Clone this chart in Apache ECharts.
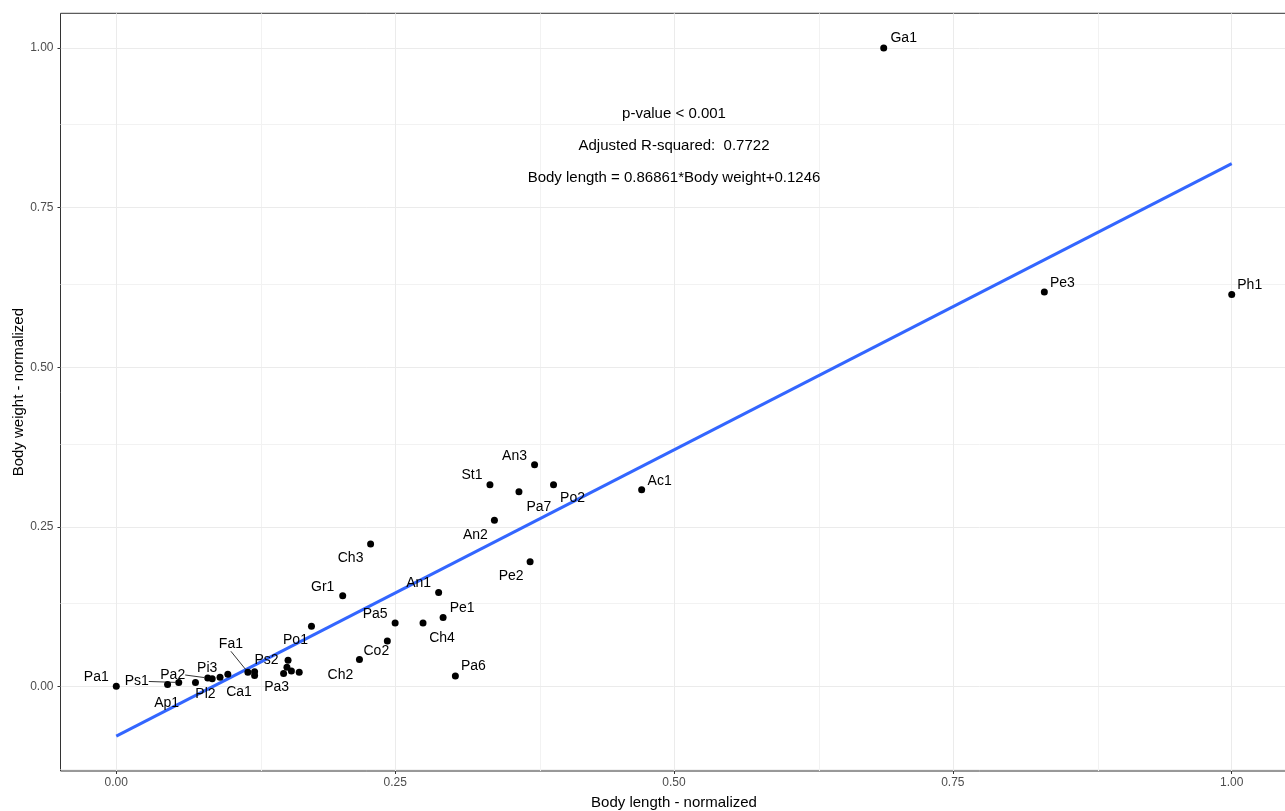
<!DOCTYPE html>
<html>
<head>
<meta charset="utf-8">
<title>Body length vs body weight</title>
<script src="https://cdn.jsdelivr.net/npm/echarts@6/dist/echarts.min.js"></script>
<style>
  html, body { margin: 0; padding: 0; background: #fff; }
  #chart { width: 1285px; height: 811px; }
</style>
</head>
<body>
<div id="chart"></div>
<script>
// Species codes and their normalized measurements
const names = ['Pa1','Ap1','Ps1','Pl2','Pa2','Pi3','Ca1','','Fa1','Ps2','','Pa3','','','','',
  'Po1','Ch2','Co2','Pa5','Ch4','Pe1','An1','Gr1','Pa6','Ch3','Pe2','An2','St1','Pa7','Po2','An3','Ac1',
  'Ga1','Pe3','Ph1'];
const bodyLength = [0.000,0.046,0.056,0.071,0.082,0.086,0.093,0.100,0.118,0.124,0.124,0.150,0.154,0.153,0.157,0.164,
  0.175,0.218,0.243,0.250,0.275,0.293,0.289,0.203,0.304,0.228,0.371,0.339,0.335,0.361,0.392,0.375,0.471,
  0.688,0.832,1.000];
const bodyWeight = [0.000,0.003,0.006,0.006,0.013,0.012,0.014,0.019,0.022,0.023,0.017,0.020,0.041,0.030,0.024,0.022,
  0.094,0.042,0.071,0.099,0.099,0.108,0.147,0.142,0.016,0.223,0.195,0.260,0.316,0.305,0.316,0.347,0.308,
  1.000,0.618,0.614];

// Fitted linear trend (end points)
const fitLength = [0, 1];
const fitWeight = [-0.078, 0.819];

// Model summary text
const statLines = ['p-value < 0.001', 'Adjusted R-squared:  0.7722', 'Body length = 0.86861*Body weight+0.1246'];
const statY = [0.90, 0.85, 0.80];
const statX = 0.5;

// Axis breaks
const xTicks = [0, 0.25, 0.5, 0.75, 1];
const yTicks = [0, 0.25, 0.5, 0.75, 1];
const xMinor = [0.125, 0.375, 0.625, 0.875];
const yMinor = [-0.125, 0.125, 0.375, 0.625, 0.875];

// Label placement (pixel offset of the label centre from its point)
const labelOffsets = {
  Ga1: [20, -10], Pe3: [18, -9], Ph1: [18, -9], An3: [-20, -9], St1: [-18, -9],
  Pa7: [20, 15], Po2: [19, 14], Ac1: [18, -9], An2: [-19, 15], Ch3: [-20, 14],
  Pe2: [-19, 14], Gr1: [-20, -9], An1: [-20, -9], Pe1: [19, -9], Pa5: [-20, -9],
  Ch4: [19, 15], Co2: [-11, 10], Ch2: [-19, 16], Pa6: [18, -10], Po1: [-16, 14],
  Ps2: [12, -11], Pa3: [-7, 14], Fa1: [-17, -28], Ca1: [19, 15], Pi3: [-5, -11],
  Pl2: [10, 12], Pa2: [-35, -3], Ps1: [-42, -1], Ap1: [-1, 19], Pa1: [-20, -9]
};
const guided = ['Fa1', 'Pa2', 'Ps1'];

const FONT = '"Liberation Sans", Arial, sans-serif';

const points = names.map((n, i) => {
  const item = { name: n, value: [bodyLength[i], bodyWeight[i]] };
  if (guided.includes(n)) {
    item.labelLine = { show: true, lineStyle: { color: '#000', width: 0.8, opacity: 1 } };
  }
  return item;
});

const chart = echarts.init(document.getElementById('chart'), null, { renderer: 'canvas' });

const gridLines = [
  ...xMinor.map(v => ({ xAxis: v, lineStyle: { color: '#F2F2F2', width: 1, type: 'solid' } })),
  ...yMinor.map(v => ({ yAxis: v, lineStyle: { color: '#F2F2F2', width: 1, type: 'solid' } })),
  ...xTicks.map(v => ({ xAxis: v, lineStyle: { color: '#EBEBEB', width: 1, type: 'solid' } })),
  ...yTicks.map(v => ({ yAxis: v, lineStyle: { color: '#EBEBEB', width: 1, type: 'solid' } }))
];

chart.setOption({
  animation: false,
  backgroundColor: '#fff',
  grid: {
    left: 60.5, top: 13.3, right: -2.5, bottom: 40,
    outerBoundsMode: 'none', containLabel: false,
    show: true, borderColor: '#333', borderWidth: 1, backgroundColor: '#fff'
  },
  xAxis: {
    type: 'value', min: -0.05, max: 1.05,
    name: 'Body length - normalized', nameLocation: 'middle', nameGap: 24, nameMoveOverlap: false,
    nameTextStyle: { color: '#000', fontSize: 15, fontFamily: FONT },
    axisLine: { show: false, onZero: false },
    axisTick: { show: true, length: 3, customValues: xTicks, lineStyle: { color: '#333' } },
    axisLabel: { customValues: xTicks, color: '#4D4D4D', fontSize: 12, fontFamily: FONT, margin: 6,
      formatter: v => v.toFixed(2) },
    splitLine: { show: false }
  },
  yAxis: {
    type: 'value', min: -0.1327, max: 1.0545,
    name: 'Body weight - normalized', nameLocation: 'middle', nameGap: 34, nameMoveOverlap: false,
    nameTextStyle: { color: '#000', fontSize: 15, fontFamily: FONT },
    axisLine: { show: false, onZero: false },
    axisTick: { show: true, length: 3, customValues: yTicks, lineStyle: { color: '#333' } },
    axisLabel: { customValues: yTicks, color: '#4D4D4D', fontSize: 12, fontFamily: FONT, margin: 7,
      formatter: v => v.toFixed(2) },
    splitLine: { show: false }
  },
  series: [
    {
      // background grid (major + minor breaks)
      type: 'line', data: [], silent: true, z: 0, zlevel: 0,
      markLine: { silent: true, z: 0, symbol: 'none', label: { show: false }, animation: false, data: gridLines }
    },
    {
      name: 'fit', type: 'line', z: 2,
      data: fitLength.map((x, i) => [x, fitWeight[i]]),
      showSymbol: false, symbol: 'none', silent: true,
      lineStyle: { color: '#3366FF', width: 3, opacity: 1 }
    },
    {
      name: 'species', type: 'scatter', z: 3,
      data: points,
      symbol: 'circle', symbolSize: 7,
      itemStyle: { color: '#000', opacity: 1 },
      label: {
        show: true, position: 'inside', formatter: p => p.name,
        color: '#000', opacity: 1, fontSize: 14, fontFamily: FONT
      },
      labelLine: { show: false },
      labelLayout: function (params) {
        const off = labelOffsets[names[params.dataIndex]] || [0, 0];
        return { dx: off[0], dy: off[1] };
      }
    },
    {
      name: 'stats', type: 'scatter', z: 4, silent: true,
      data: statLines.map((t, i) => ({ name: t, value: [statX, statY[i]] })),
      symbolSize: 1, itemStyle: { color: 'rgba(0,0,0,0)' },
      label: {
        show: true, position: 'inside', offset: [0, 2], formatter: p => p.name,
        color: '#000', opacity: 1, fontSize: 15, fontFamily: FONT
      }
    }
  ]
});
</script>
</body>
</html>
